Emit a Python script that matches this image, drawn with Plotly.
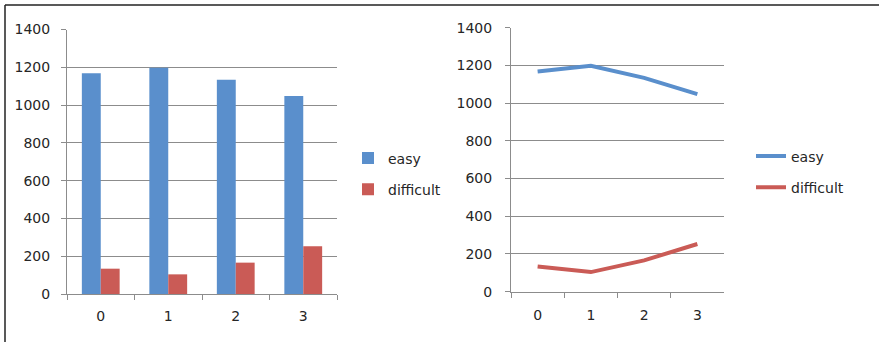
import plotly.graph_objects as go

categories = ["0", "1", "2", "3"]
easy = [1168, 1198, 1134, 1048]
difficult = [134, 104, 166, 253]
y_ticks = [0, 200, 400, 600, 800, 1000, 1200, 1400]

W, H = 879, 342
BLUE = "#5A8FCC"
RED = "#CA5B56"
TXT = "#262626"
GRID = "#8C8C8C"

def px(x):
    return x / W

def py(y):
    return 1 - y / H

fig = go.Figure()
fig.add_trace(go.Bar(x=categories, y=easy, name="easy", marker=dict(color=BLUE, line=dict(width=0)),
                     xaxis="x", yaxis="y", legend="legend", legendgroup="a"))
fig.add_trace(go.Bar(x=categories, y=difficult, name="difficult", marker=dict(color=RED, line=dict(width=0)),
                     xaxis="x", yaxis="y", legend="legend", legendgroup="b"))
fig.add_trace(go.Scatter(x=categories, y=easy, name="easy", mode="lines", line=dict(color=BLUE, width=4),
                         xaxis="x2", yaxis="y2", legend="legend2", legendgroup="c"))
fig.add_trace(go.Scatter(x=categories, y=difficult, name="difficult", mode="lines", line=dict(color=RED, width=4),
                         xaxis="x2", yaxis="y2", legend="legend2", legendgroup="d"))

font = dict(family="DejaVu Sans", size=14, color=TXT)

xcommon = dict(type="category", showgrid=False, showline=True, linecolor=GRID, linewidth=1,
               ticks="outside", tickson="boundaries", ticklen=5, tickcolor=GRID,
               tickfont=font, zeroline=False, fixedrange=True, automargin=False)
ycommon = dict(range=[0, 1400], tickvals=y_ticks, showgrid=True, gridcolor=GRID, gridwidth=1,
               showline=True, linecolor=GRID, linewidth=1, ticks="outside", ticklen=5, tickcolor=GRID,
               tickfont=font, zeroline=False, fixedrange=True, automargin=False)

fig.update_layout(
    width=W, height=H,
    autosize=False,
    margin=dict(l=0, r=0, t=0, b=0, pad=0, autoexpand=False),
    paper_bgcolor="white", plot_bgcolor="white",
    font=font,
    bargap=0.44, bargroupgap=0, barmode="group",
    xaxis=dict(domain=[px(67), px(337)], anchor="y", ticklabelstandoff=9, **xcommon),
    yaxis=dict(domain=[py(294), py(29.5)], anchor="x", ticklabelstandoff=8, **ycommon),
    xaxis2=dict(domain=[px(511), px(724)], anchor="y2", range=[-0.5, 3.5], ticklabelstandoff=10, **xcommon),
    yaxis2=dict(domain=[py(291.7), py(27.7)], anchor="x2", ticklabelstandoff=10, **ycommon),
    legend=dict(x=px(348), y=py(174), xanchor="left", yanchor="middle", bgcolor="rgba(0,0,0,0)",
                font=font, itemwidth=30, tracegroupgap=10, traceorder="grouped"),
    legend2=dict(x=px(751), y=py(172), xanchor="left", yanchor="middle", bgcolor="rgba(0,0,0,0)",
                 font=font, itemwidth=30, tracegroupgap=10, traceorder="grouped"),
    showlegend=True,
    shapes=[
        dict(type="line", xref="paper", yref="paper", x0=px(5), x1=1, y0=py(5), y1=py(5),
             line=dict(color="#222222", width=1.5)),
        dict(type="line", xref="paper", yref="paper", x0=px(5), x1=px(5), y0=py(5), y1=0,
             line=dict(color="#222222", width=1.5)),
    ],
)

fig.write_html("out.html", config={"displayModeBar": False, "staticPlot": False},
               post_script="document.body.style.margin='0';")
